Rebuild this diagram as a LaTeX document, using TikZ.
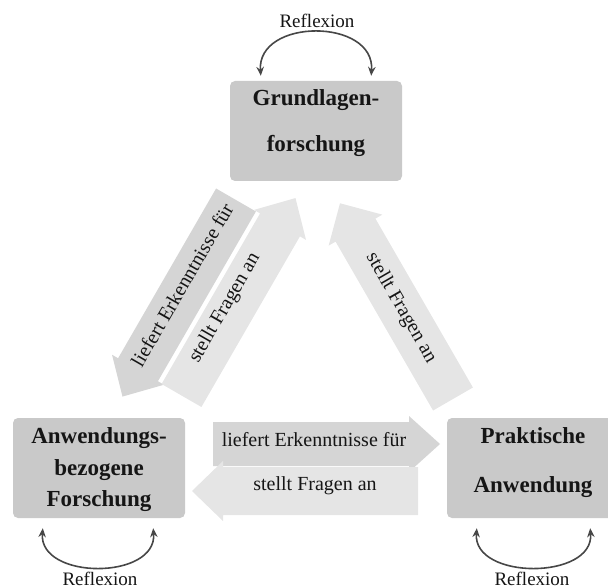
\documentclass[tikz,border=0pt]{standalone}
\usepackage{fontspec}
\setmainfont{Liberation Serif}
\usetikzlibrary{arrows.meta,calc}
\definecolor{boxgray}{HTML}{C9C9C9}
\definecolor{darkarr}{HTML}{D5D5D5}
\definecolor{lightarr}{HTML}{E5E5E5}
\definecolor{arcgray}{HTML}{474747}
\definecolor{inkcol}{HTML}{151515}
% name, tail, angle, length, fill, body half width, head half width
\newcommand{\blockarr}[7]{%
  \begin{scope}[shift={#2},rotate=#3]
    \fill[#5] (0,-#6) -- ({#4-31},-#6) -- ({#4-31},-#7) -- (#4,0)
      -- ({#4-31},#7) -- ({#4-31},#6) -- (0,#6) -- cycle;
    \coordinate (#1-tail) at (0,0);
    \coordinate (#1-tip) at (#4,0);
  \end{scope}}
\begin{document}
\begin{tikzpicture}[x=1pt,y=-1pt,
  gbox/.style={fill=boxgray,rounded corners=5pt,minimum width=172pt,minimum height=100pt,inner sep=0pt},
  boxtxt/.style={font=\fontsize{23}{27}\selectfont\bfseries,text=inkcol,inner sep=0pt,anchor=base},
  arrtxt/.style={font=\fontsize{20}{24}\selectfont,text=inkcol,inner sep=0pt},
  refltxt/.style={font=\fontsize{19}{23}\selectfont,text=inkcol,inner sep=0pt,anchor=base},
  reflarc/.style={draw=arcgray,line width=1.6pt,{Stealth[length=9pt,width=7.5pt]}-{Stealth[length=9pt,width=7.5pt]}}]
\useasboundingbox (0,0) rectangle (608,588);

% boxes
\node[gbox] (G) at (316,131) {};
\node[gbox] (A) at (99,468) {};
\node[gbox] (P) at (533,468) {};

\node[boxtxt] (G1) at (316,106) {Grundlagen-};
\node[boxtxt] (G2) at (316,152) {forschung};
\node[boxtxt] (A1) at (99,443) {Anwendungs-};
\node[boxtxt] (A2) at (99,475) {bezogene};
\node[boxtxt] (A3) at (99,506) {Forschung};
\node[boxtxt] (P1) at (533,443) {Praktische};
\node[boxtxt] (P2) at (533,492) {Anwendung};

% block arrows
\blockarr{ad}{(236,200)}{240}{227}{darkarr}{23}{30}
\blockarr{au}{(181.5,395.5)}{60}{228}{lightarr}{23}{30}
\blockarr{ar}{(453,399)}{120}{226}{lightarr}{23}{31}
\blockarr{hr}{(213,444)}{0}{227}{darkarr}{22}{28}
\blockarr{hl}{(418,491)}{180}{226}{lightarr}{24}{30}

\node[arrtxt,rotate=60] (t1) at (182,285) {liefert Erkenntnisse für};
\node[arrtxt,rotate=60] (t2) at (225,308) {stellt Fragen an};
\node[arrtxt,rotate=-60] (t3) at (401,308) {stellt Fragen an};
\node[arrtxt] (t4) at (314,440) {liefert Erkenntnisse für};
\node[arrtxt] (t5) at (315,486) {stellt Fragen an};

% reflexion loops
\coordinate (GL) at ($(G.north west)+(31,-5)$);
\coordinate (GR) at ($(G.north east)+(-31,-5)$);
\draw[reflarc] (GL) .. controls ($(GL)+(-4,-58)$) and ($(GR)+(4,-58)$) .. (GR);
\node[refltxt] (R1) at (317,28) {Reflexion};

\coordinate (AL) at ($(A.south west)+(30,10)$);
\coordinate (AR) at ($(A.south east)+(-32,10)$);
\draw[reflarc] (AL) .. controls ($(AL)+(-4,52)$) and ($(AR)+(4,52)$) .. (AR);
\node[refltxt] (R2) at (100,585) {Reflexion};

\coordinate (PL) at ($(P.south west)+(30,10)$);
\coordinate (PR) at ($(P.south east)+(-29,10)$);
\draw[reflarc] (PL) .. controls ($(PL)+(-4,52)$) and ($(PR)+(4,52)$) .. (PR);
\node[refltxt] (R3) at (532,585) {Reflexion};
\end{tikzpicture}
\end{document}
